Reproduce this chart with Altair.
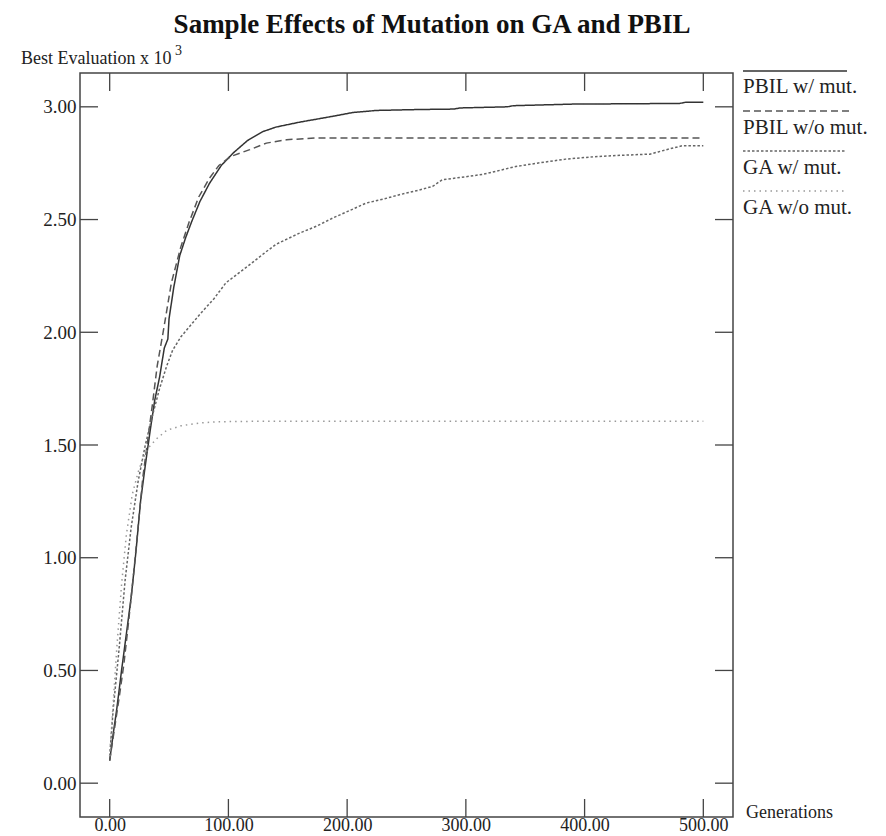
import altair as alt
import pandas as pd

# ---- data ----
series_names = ["PBIL w/ mut.", "PBIL w/o mut.", "GA w/ mut.", "GA w/o mut."]

gen_pbil_mut = [0, 3, 6, 10, 14, 18, 22, 26, 30, 34, 38, 42, 46, 49, 50, 54, 59, 64, 69, 76, 84, 94, 104,
                116, 129, 140, 149, 160, 174, 190, 205, 225, 260, 290, 295, 335, 340, 390, 480, 485, 500]
val_pbil_mut = [0.10, 0.22, 0.33, 0.50, 0.66, 0.82, 1.02, 1.25, 1.41, 1.56, 1.70, 1.80, 1.93, 1.97, 2.06,
                2.20, 2.34, 2.42, 2.49, 2.58, 2.66, 2.74, 2.795, 2.85, 2.89, 2.91, 2.92, 2.932, 2.945, 2.96,
                2.975, 2.984, 2.988, 2.99, 2.995, 3.0, 3.005, 3.012, 3.015, 3.02, 3.02]

gen_pbil_nomut = [0, 4, 8, 12, 16, 20, 24, 28, 32, 36, 40, 45, 52, 60, 67, 75, 84, 92, 102, 118, 132, 149,
                  174, 200, 500]
val_pbil_nomut = [0.10, 0.24, 0.38, 0.53, 0.72, 0.92, 1.14, 1.36, 1.52, 1.68, 1.85, 2.00, 2.22, 2.38, 2.49,
                  2.60, 2.683, 2.74, 2.78, 2.81, 2.839, 2.854, 2.862, 2.862, 2.862]

gen_ga_mut = [0, 3, 8, 13, 18, 24, 30, 36, 42, 48, 53, 60, 68, 76, 88, 98, 108, 118, 130, 140, 150, 160,
              174, 188, 200, 216, 230, 244, 260, 272, 280, 300, 314, 330, 342, 360, 384, 400, 412, 430,
              455, 462, 469, 482, 500]
val_ga_mut = [0.12, 0.33, 0.60, 0.90, 1.13, 1.34, 1.50, 1.63, 1.75, 1.85, 1.92, 1.98, 2.03, 2.08, 2.15,
              2.22, 2.26, 2.30, 2.35, 2.39, 2.415, 2.44, 2.47, 2.507, 2.535, 2.573, 2.59, 2.61, 2.63,
              2.647, 2.676, 2.69, 2.70, 2.72, 2.735, 2.75, 2.768, 2.775, 2.78, 2.785, 2.79, 2.80, 2.81,
              2.827, 2.827]

gen_ga_nomut = [0, 3, 6, 10, 14, 19, 24, 28, 33, 40, 48, 60, 75, 90, 120, 200, 300, 400, 500]
val_ga_nomut = [0.12, 0.36, 0.60, 0.88, 1.10, 1.28, 1.38, 1.44, 1.49, 1.53, 1.565, 1.585, 1.597, 1.603,
                1.605, 1.605, 1.605, 1.605, 1.605]

x_ticks = [0, 100, 200, 300, 400, 500]
y_ticks = [0.0, 0.5, 1.0, 1.5, 2.0, 2.5, 3.0]

# ---- build table ----
rows = []
for name, g, v in zip(series_names,
                      [gen_pbil_mut, gen_pbil_nomut, gen_ga_mut, gen_ga_nomut],
                      [val_pbil_mut, val_pbil_nomut, val_ga_mut, val_ga_nomut]):
    for gi, vi in zip(g, v):
        rows.append({"series": name, "gen": gi, "val": vi})
df = pd.DataFrame(rows)

W, H = 653, 744
FONT = "Liberation Serif"
FRAME = "#444444"
TXT = "#222222"

colors = ["#333333", "#555555", "#666666", "#999999"]
dashes = [[1, 0], [7, 4], [2.5, 2], [1.5, 4]]

xscale = alt.Scale(domain=[-25, 525], nice=False, zero=False)
yscale = alt.Scale(domain=[-0.15, 3.15], nice=False, zero=False)

x_axis = alt.Axis(values=x_ticks, format=".2f", ticks=False, domain=False, grid=False,
                  labelBaseline="alphabetic", labelPadding=13, title=None,
                  labelFont=FONT, labelFontSize=18, labelColor=TXT)
y_axis = alt.Axis(values=y_ticks, format=".2f", ticks=False, domain=False, grid=False,
                  labelPadding=4, title=None, labelFont=FONT, labelFontSize=19, labelColor=TXT)

lines = alt.Chart(df).mark_line(strokeWidth=1.5).encode(
    x=alt.X("gen:Q", scale=xscale, axis=x_axis),
    y=alt.Y("val:Q", scale=yscale, axis=y_axis),
    color=alt.Color("series:N", scale=alt.Scale(domain=series_names, range=colors), legend=None),
    strokeDash=alt.StrokeDash("series:N", scale=alt.Scale(domain=series_names, range=dashes), legend=None),
    detail="series:N",
)

xt = pd.DataFrame({"v": x_ticks})
yt = pd.DataFrame({"v": y_ticks})
TL = 18
tick_top = alt.Chart(xt).mark_rule(color=FRAME, strokeWidth=1.3).encode(
    x=alt.X("v:Q", scale=xscale, axis=x_axis), y=alt.value(0), y2=alt.value(TL))
tick_bot = alt.Chart(xt).mark_rule(color=FRAME, strokeWidth=1.3).encode(
    x=alt.X("v:Q", scale=xscale, axis=x_axis), y=alt.value(H - TL), y2=alt.value(H))
tick_left = alt.Chart(yt).mark_rule(color=FRAME, strokeWidth=1.3).encode(
    y=alt.Y("v:Q", scale=yscale, axis=y_axis), x=alt.value(0), x2=alt.value(TL))
tick_right = alt.Chart(yt).mark_rule(color=FRAME, strokeWidth=1.3).encode(
    y=alt.Y("v:Q", scale=yscale, axis=y_axis), x=alt.value(W - TL), x2=alt.value(W))

# ---- manual legend (line sample above label) ----
legend_layers = []
leg_x0 = 663
leg_x1 = [767, 770, 765, 765]
line_y = [-2, 38, 78, 118]
text_y = [20, 61, 101, 141]
for i, name in enumerate(series_names):
    one = pd.DataFrame({"series": [name]})
    legend_layers.append(
        alt.Chart(one).mark_rule(strokeWidth=1.5, color=colors[i], strokeDash=dashes[i]).encode(
            x=alt.value(leg_x0), x2=alt.value(leg_x1[i]), y=alt.value(line_y[i])))
    legend_layers.append(
        alt.Chart(one).mark_text(font=FONT, fontSize=21, align="left", baseline="alphabetic",
                                 color=TXT).encode(
            text="series:N", x=alt.value(leg_x0), y=alt.value(text_y[i])))

# ---- texts ----
title = alt.Chart(pd.DataFrame({"t": ["Sample Effects of Mutation on GA and PBIL"]})).mark_text(
    font=FONT, fontSize=27, fontWeight="bold", align="center", baseline="alphabetic", color="#111111"
).encode(text="t:N", x=alt.value(352), y=alt.value(-40))

ytitle = alt.Chart(pd.DataFrame({"t": ["Best Evaluation x 10"]})).mark_text(
    font=FONT, fontSize=18, align="left", baseline="alphabetic", color=TXT
).encode(text="t:N", x=alt.value(-59), y=alt.value(-9))

ysup = alt.Chart(pd.DataFrame({"t": ["3"]})).mark_text(
    font=FONT, fontSize=14, align="left", baseline="alphabetic", color=TXT
).encode(text="t:N", x=alt.value(95), y=alt.value(-18))

xtitle = alt.Chart(pd.DataFrame({"t": ["Generations"]})).mark_text(
    font=FONT, fontSize=18, align="left", baseline="alphabetic", color=TXT
).encode(text="t:N", x=alt.value(666), y=alt.value(745))

chart = alt.layer(
    lines, tick_top, tick_bot, tick_left, tick_right, *legend_layers, title, ytitle, ysup, xtitle
).properties(
    width=W, height=H,
    autosize=alt.AutoSizeParams(type="none"),
    padding={"left": 72, "top": 65, "right": 145, "bottom": 18},
    background="white",
).configure_view(
    stroke=FRAME, strokeWidth=1.5
)

chart.save("out.html", embed_options={"renderer": "svg", "actions": False})
